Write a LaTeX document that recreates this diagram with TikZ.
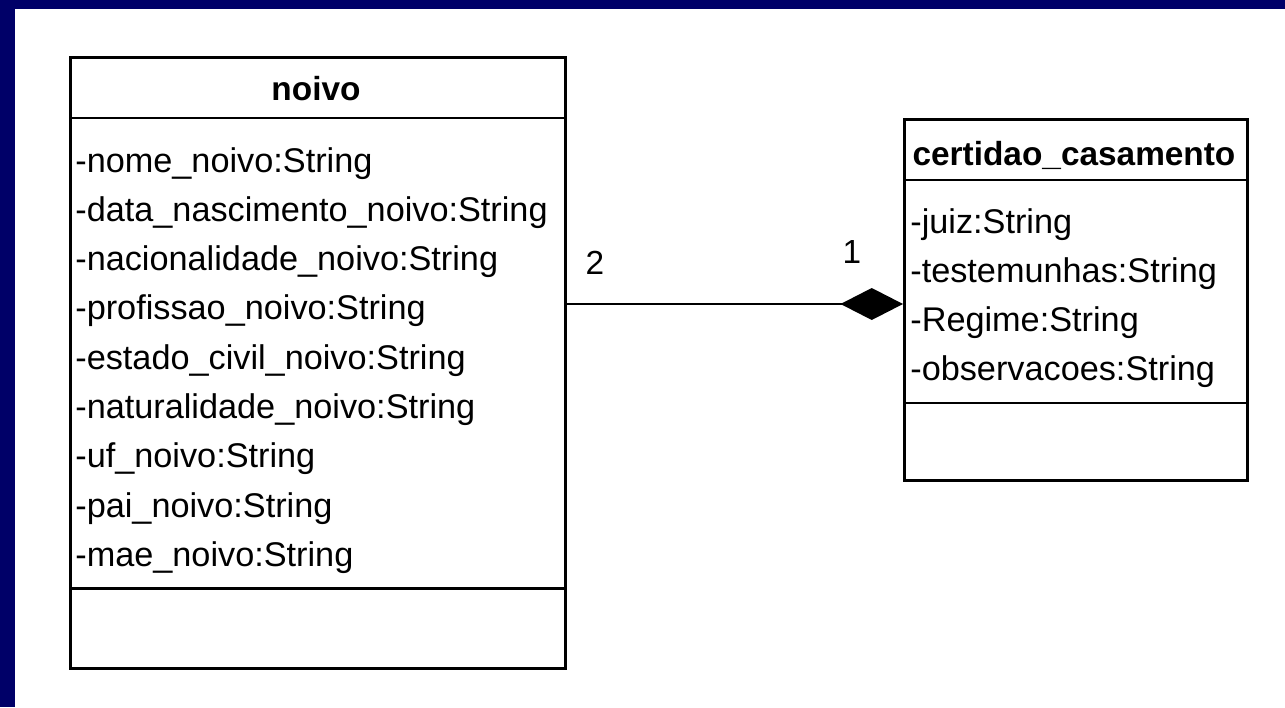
\documentclass[tikz,border=0pt]{standalone}
\usepackage{fontspec}
\setmainfont{Liberation Sans}
\usetikzlibrary{positioning,arrows.meta}
\definecolor{framenavy}{RGB}{0,0,104}
\tikzset{
  classbox/.style={draw, line width=1.6pt, anchor=north west, inner sep=0pt},
  divider/.style={line width=1.6pt},
  classtitle/.style={anchor=base, inner sep=0pt, font=\fontsize{19}{22}\selectfont\bfseries},
  attr/.style={anchor=base west, inner sep=0pt, font=\fontsize{19.5}{22}\selectfont},
  mult/.style={anchor=base, inner sep=0pt, font=\fontsize{19}{22}\selectfont},
  compose/.style={line width=1.4pt, -{Diamond[length=1.25cm, width=0.64cm]}},
}

\begin{document}
\begin{tikzpicture}[x=0.02cm, y=-0.02cm]
  \useasboundingbox (0,0) rectangle (1285,707);
  \fill[white] (0,0) rectangle (1285,707);
  \fill[framenavy] (0,0) rectangle (1285,9);
  \fill[framenavy] (0,0) rectangle (15,707);

  % class noivo
  \node[classbox, minimum width=9.9cm, minimum height=12.22cm] (noivo) at (69,56) {};
  \draw[divider] ([yshift=-1.24cm]noivo.north west) -- ([yshift=-1.24cm]noivo.north east);
  \draw[divider] ([yshift=-10.66cm]noivo.north west) -- ([yshift=-10.66cm]noivo.north east);
  \node[classtitle] (noivotitle) at (316,100) {noivo};
  \foreach \attr [count=\i] in {-nome\_noivo:String, -data\_nascimento\_noivo:String,
      -nacionalidade\_noivo:String, -profissao\_noivo:String, -estado\_civil\_noivo:String,
      -naturalidade\_noivo:String, -uf\_noivo:String, -pai\_noivo:String, -mae\_noivo:String}
    \node[attr] (noivoattr\i) at (75,{172+49.3*(\i-1)}) {\attr};

  % class certidao_casamento
  \node[classbox, minimum width=6.86cm, minimum height=7.22cm] (certidao) at (903,118) {};
  \draw[divider] ([yshift=-1.24cm]certidao.north west) -- ([yshift=-1.24cm]certidao.north east);
  \draw[divider] ([yshift=-5.7cm]certidao.north west) -- ([yshift=-5.7cm]certidao.north east);
  \node[classtitle] (certidaotitle) at (1074,165) {certidao\_casamento};
  \foreach \attr [count=\i] in {-juiz:String, -testemunhas:String, -Regime:String, -observacoes:String}
    \node[attr] (certidaoattr\i) at (910,{233+49*(\i-1)}) {\attr};

  % composition
  \coordinate (assoc) at (0,304);
  \draw[compose] (noivo.east |- assoc) -- (certidao.west |- assoc);
  \node[mult] (multnoivo) at (595,274) {2};
  \node[mult] (multcertidao) at (852,263) {1};
\end{tikzpicture}
\end{document}
